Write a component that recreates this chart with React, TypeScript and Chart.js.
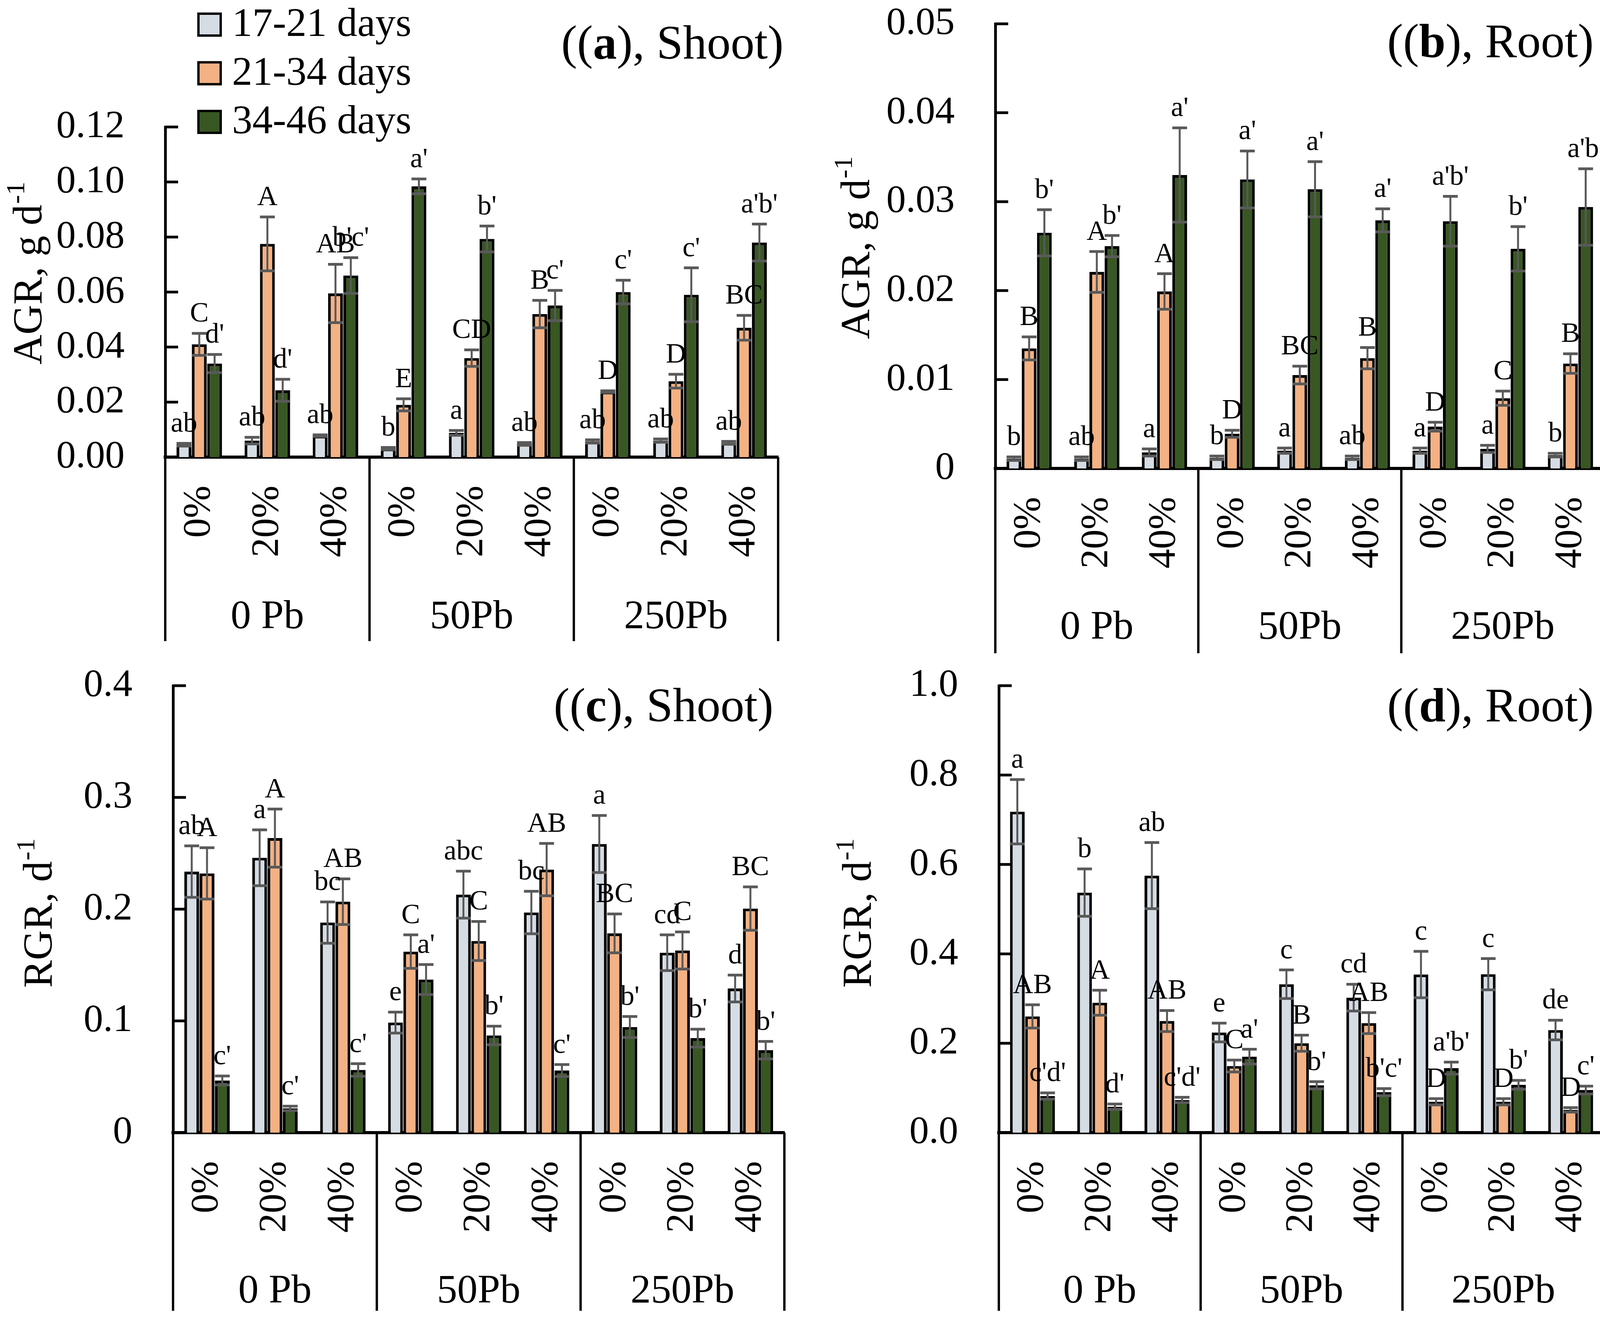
import React, { useEffect, useRef } from 'react';
import { Chart, registerables } from 'chart.js';

Chart.register(...registerables);

const FONT = '"Liberation Serif", "Times New Roman", serif';

// ---------- shared categories ----------
const categories = ['0%', '20%', '40%', '0%', '20%', '40%', '0%', '20%', '40%'];
const pbGroups = ['0 Pb', '50Pb', '250Pb'];
const seriesNames = ['17-21 days', '21-34 days', '34-46 days'];
const seriesColors = ['#D5DCE4', '#F4B183', '#385723'];

// ---------- (a) AGR, Shoot ----------
const agrShoot1721 = [0.0045, 0.006, 0.0078, 0.0031, 0.0088, 0.0048, 0.0057, 0.006, 0.0052];
const agrShoot2134 = [0.041, 0.0775, 0.0595, 0.019, 0.036, 0.052, 0.0238, 0.0276, 0.047];
const agrShoot3446 = [0.034, 0.0243, 0.066, 0.0984, 0.0793, 0.0551, 0.06, 0.059, 0.078];
const agrShoot1721Err = [0.0005, 0.0012, 0.0003, 0.0004, 0.0009, 0.0005, 0.0006, 0.0006, 0.0005];
const agrShoot2134Err = [0.004, 0.0098, 0.0106, 0.0022, 0.003, 0.005, 0.0003, 0.0025, 0.0045];
const agrShoot3446Err = [0.0033, 0.004, 0.0065, 0.0027, 0.0047, 0.0055, 0.0043, 0.0098, 0.0067];
const agrShootLetters1721 = ['ab', 'ab', 'ab', 'b', 'a', 'ab', 'ab', 'ab', 'ab'];
const agrShootLetters2134 = ['C', 'A', 'AB', 'E', 'CD', 'B', 'D', 'D', 'BC'];
const agrShootLetters3446 = ["d'", "d'", "b'c'", "a'", "b'", "c'", "c'", "c'", "a'b'"];
const agrShootTicks = (v: number) => v.toFixed(2);

// ---------- (b) AGR, Root ----------
const agrRoot1721 = [0.0011, 0.0011, 0.0018, 0.0012, 0.002, 0.0012, 0.002, 0.0022, 0.0015];
const agrRoot2134 = [0.0135, 0.0221, 0.0199, 0.0039, 0.0105, 0.0124, 0.0047, 0.0079, 0.0118];
const agrRoot3446 = [0.0265, 0.025, 0.033, 0.0325, 0.0314, 0.0279, 0.0278, 0.0247, 0.0294];
const agrRoot1721Err = [0.0002, 0.0002, 0.0004, 0.0002, 0.0003, 0.0002, 0.0003, 0.0004, 0.0002];
const agrRoot2134Err = [0.0013, 0.0023, 0.002, 0.0004, 0.001, 0.0012, 0.0005, 0.0008, 0.0011];
const agrRoot3446Err = [0.0026, 0.0012, 0.0053, 0.0032, 0.0031, 0.0013, 0.0028, 0.0025, 0.0043];
const agrRootLetters1721 = ['b', 'ab', 'a', 'b', 'a', 'ab', 'a', 'a', 'b'];
const agrRootLetters2134 = ['B', 'A', 'A', 'D', 'BC', 'B', 'D', 'C', 'B'];
const agrRootLetters3446 = ["b'", "b'", "a'", "a'", "a'", "a'", "a'b'", "b'", "a'b'"];
const agrRootTicks = (v: number) => (v === 0 ? '0' : v.toFixed(2));

// ---------- (c) RGR, Shoot ----------
const rgrShoot1721 = [0.2336, 0.246, 0.188, 0.0985, 0.213, 0.197, 0.2583, 0.161, 0.129];
const rgrShoot2134 = [0.232, 0.2636, 0.2067, 0.162, 0.1715, 0.2354, 0.1783, 0.163, 0.2005];
const rgrShoot3446 = [0.0467, 0.0217, 0.0561, 0.137, 0.087, 0.0556, 0.0945, 0.0846, 0.0738];
const rgrShoot1721Err = [0.023, 0.025, 0.0185, 0.0094, 0.021, 0.019, 0.0255, 0.016, 0.012];
const rgrShoot2134Err = [0.023, 0.026, 0.0204, 0.015, 0.0175, 0.0234, 0.0174, 0.0166, 0.0194];
const rgrShoot3446Err = [0.004, 0.002, 0.0056, 0.0134, 0.0083, 0.0053, 0.0094, 0.008, 0.0078];
const rgrShootLetters1721 = ['ab', 'a', 'bc', 'e', 'abc', 'bc', 'a', 'cd', 'd'];
const rgrShootLetters2134 = ['A', 'A', 'AB', 'C', 'C', 'AB', 'BC', 'C', 'BC'];
const rgrShootLetters3446 = ["c'", "c'", "c'", "a'", "b'", "c'", "b'", "b'", "b'"];
const rgrShootTicks = (v: number) => (v === 0 ? '0' : v.toFixed(1));

// ---------- (d) RGR, Root ----------
const rgrRoot1721 = [0.718, 0.537, 0.575, 0.224, 0.332, 0.302, 0.3537, 0.3544, 0.2295];
const rgrRoot2134 = [0.26, 0.2906, 0.2497, 0.149, 0.2, 0.245, 0.069, 0.069, 0.051];
const rgrRoot3446 = [0.0819, 0.058, 0.073, 0.17, 0.106, 0.0906, 0.1443, 0.107, 0.0953];
const rgrRoot1721Err = [0.072, 0.053, 0.074, 0.021, 0.032, 0.03, 0.052, 0.035, 0.022];
const rgrRoot2134Err = [0.026, 0.028, 0.0235, 0.0134, 0.018, 0.0235, 0.007, 0.007, 0.005];
const rgrRoot3446Err = [0.007, 0.006, 0.006, 0.0166, 0.008, 0.008, 0.0134, 0.01, 0.0087];
const rgrRootLetters1721 = ['a', 'b', 'ab', 'e', 'c', 'cd', 'c', 'c', 'de'];
const rgrRootLetters2134 = ['AB', 'A', 'AB', 'C', 'B', 'AB', 'D', 'D', 'D'];
const rgrRootLetters3446 = ["c'd'", "d'", "c'd'", "a'", "b'", "b'c'", "a'b'", "b'", "c'"];
const rgrRootTicks = (v: number) => v.toFixed(1);

type PanelCfg = {
  key: string;
  x: number; y: number; w: number; h: number;
  area: { left: number; right: number; top: number; bottom: number };
  yMax: number; yStep: number; fmt: (v: number) => string;
  values: number[][]; errors: number[][]; letters: string[][];
  yTitleMain: string; yTitleSup: string; yTitleX: number; yTitleY: number;
  tLetter: string; tWord: string; tRight: number; tBase: number;
  groupBase: number; sepBottom: number; legend: boolean;
};

const panels: PanelCfg[] = [
  {
    key: 'a', x: 0, y: 0, w: 2061, h: 1688,
    area: { left: 423, right: 1992, top: 325, bottom: 1170 },
    yMax: 0.12, yStep: 0.02, fmt: agrShootTicks,
    values: [agrShoot1721, agrShoot2134, agrShoot3446],
    errors: [agrShoot1721Err, agrShoot2134Err, agrShoot3446Err],
    letters: [agrShootLetters1721, agrShootLetters2134, agrShootLetters3446],
    yTitleMain: 'AGR, g d', yTitleSup: '-1', yTitleX: 106, yTitleY: 700,
    tLetter: 'a', tWord: 'Shoot', tRight: 2006, tBase: 150,
    groupBase: 1608, sepBottom: 1641, legend: true,
  },
  {
    key: 'b', x: 2061, y: 0, w: 2061, h: 1688,
    area: { left: 487, right: 2046, top: 61, bottom: 1199 },
    yMax: 0.05, yStep: 0.01, fmt: agrRootTicks,
    values: [agrRoot1721, agrRoot2134, agrRoot3446],
    errors: [agrRoot1721Err, agrRoot2134Err, agrRoot3446Err],
    letters: [agrRootLetters1721, agrRootLetters2134, agrRootLetters3446],
    yTitleMain: 'AGR, g d', yTitleSup: '-1', yTitleX: 164, yTitleY: 635,
    tLetter: 'b', tWord: 'Root', tRight: 2019, tBase: 146,
    groupBase: 1635, sepBottom: 1672, legend: false,
  },
  {
    key: 'c', x: 0, y: 1688, w: 2061, h: 1688,
    area: { left: 443, right: 2008, top: 67, bottom: 1211 },
    yMax: 0.4, yStep: 0.1, fmt: rgrShootTicks,
    values: [rgrShoot1721, rgrShoot2134, rgrShoot3446],
    errors: [rgrShoot1721Err, rgrShoot2134Err, rgrShoot3446Err],
    letters: [rgrShootLetters1721, rgrShootLetters2134, rgrShootLetters3446],
    yTitleMain: 'RGR, d', yTitleSup: '-1', yTitleX: 132, yTitleY: 650,
    tLetter: 'c', tWord: 'Shoot', tRight: 1980, tBase: 158,
    groupBase: 1646, sepBottom: 1667, legend: false,
  },
  {
    key: 'd', x: 2061, y: 1688, w: 2061, h: 1688,
    area: { left: 496, right: 2046, top: 67, bottom: 1211 },
    yMax: 1.0, yStep: 0.2, fmt: rgrRootTicks,
    values: [rgrRoot1721, rgrRoot2134, rgrRoot3446],
    errors: [rgrRoot1721Err, rgrRoot2134Err, rgrRoot3446Err],
    letters: [rgrRootLetters1721, rgrRootLetters2134, rgrRootLetters3446],
    yTitleMain: 'RGR, d', yTitleSup: '-1', yTitleX: 168, yTitleY: 650,
    tLetter: 'd', tWord: 'Root', tRight: 2019, tBase: 158,
    groupBase: 1646, sepBottom: 1667, legend: false,
  },
];

const Y_AXIS_W = 300;
const X_AXIS_H = 300;

function decorPlugin(cfg: PanelCfg) {
  return {
    id: 'decor' + cfg.key,
    afterDatasetsDraw(chart: any) {
      const ctx: CanvasRenderingContext2D = chart.ctx;
      const ys = chart.scales.y;
      ctx.save();
      // error bars
      ctx.strokeStyle = '#595959';
      ctx.lineCap = 'butt';
      const labelPos: { x: number; y: number; t: string }[] = [];
      chart.data.datasets.forEach((ds: any, di: number) => {
        const meta = chart.getDatasetMeta(di);
        meta.data.forEach((el: any, i: number) => {
          const v = ds.data[i] as number;
          const e = cfg.errors[di][i];
          const x = el.x;
          const w = el.width;
          const yt = ys.getPixelForValue(v + e);
          const yb = ys.getPixelForValue(Math.max(v - e, 0));
          ctx.lineWidth = 5;
          ctx.beginPath();
          ctx.moveTo(x, yt);
          ctx.lineTo(x, yb);
          ctx.stroke();
          ctx.lineWidth = 7;
          ctx.beginPath();
          ctx.moveTo(x - w / 2, yt);
          ctx.lineTo(x + w / 2, yt);
          ctx.moveTo(x - w / 2, yb);
          ctx.lineTo(x + w / 2, yb);
          ctx.stroke();
          labelPos.push({ x, y: yt - 30, t: cfg.letters[di][i] });
        });
      });
      // significance letters
      ctx.fillStyle = '#000';
      ctx.font = `72px ${FONT}`;
      ctx.textAlign = 'center';
      ctx.textBaseline = 'alphabetic';
      labelPos.forEach((p) => ctx.fillText(p.t, p.x, p.y));
      ctx.restore();
    },
    afterDraw(chart: any) {
      const ctx: CanvasRenderingContext2D = chart.ctx;
      const ys = chart.scales.y;
      const xs = chart.scales.x;
      const ca = chart.chartArea;
      ctx.save();
      ctx.strokeStyle = '#000';
      ctx.fillStyle = '#000';
      // inward y ticks
      ctx.lineWidth = 7;
      ys.ticks.forEach((t: any) => {
        const py = ys.getPixelForValue(t.value);
        ctx.beginPath();
        ctx.moveTo(ca.left, py);
        ctx.lineTo(ca.left + 33, py);
        ctx.stroke();
      });
      // group separators
      ctx.lineWidth = 6;
      const L = xs.left;
      const W = xs.right - xs.left;
      for (let k = 0; k <= pbGroups.length; k++) {
        const px = L + (W * k) / pbGroups.length;
        ctx.beginPath();
        ctx.moveTo(px, ca.bottom);
        ctx.lineTo(px, cfg.sepBottom);
        ctx.stroke();
      }
      // group labels
      ctx.font = `104px ${FONT}`;
      ctx.textAlign = 'center';
      ctx.textBaseline = 'alphabetic';
      pbGroups.forEach((g, k) => {
        ctx.fillText(g, L + (W * (k + 0.5)) / pbGroups.length, cfg.groupBase);
      });
      // y axis title with superscript
      ctx.save();
      ctx.translate(cfg.yTitleX, cfg.yTitleY);
      ctx.rotate(-Math.PI / 2);
      ctx.textAlign = 'left';
      const mainFont = `106px ${FONT}`;
      const supFont = `68px ${FONT}`;
      ctx.font = mainFont;
      const wm = ctx.measureText(cfg.yTitleMain).width;
      ctx.font = supFont;
      const wsup = ctx.measureText(cfg.yTitleSup).width;
      const start = -(wm + wsup) / 2;
      ctx.font = mainFont;
      ctx.fillText(cfg.yTitleMain, start, 0);
      ctx.font = supFont;
      ctx.fillText(cfg.yTitleSup, start + wm + 2, -44);
      ctx.restore();
      // panel title ((x), Word)
      const tNormal = `122px ${FONT}`;
      const tBold = `bold 122px ${FONT}`;
      const p1 = '((';
      const p3 = '), ' + cfg.tWord + ')';
      ctx.textAlign = 'left';
      ctx.font = tNormal;
      const w1 = ctx.measureText(p1).width;
      const w3 = ctx.measureText(p3).width;
      ctx.font = tBold;
      const w2 = ctx.measureText(cfg.tLetter).width;
      let tx = cfg.tRight - (w1 + w2 + w3);
      ctx.font = tNormal;
      ctx.fillText(p1, tx, cfg.tBase);
      tx += w1;
      ctx.font = tBold;
      ctx.fillText(cfg.tLetter, tx, cfg.tBase);
      tx += w2;
      ctx.font = tNormal;
      ctx.fillText(p3, tx, cfg.tBase);
      // legend
      if (cfg.legend) {
        chart.data.datasets.forEach((ds: any, i: number) => {
          const top = 32 + i * 124.5;
          ctx.fillStyle = ds.backgroundColor;
          ctx.fillRect(505, top, 63, 62);
          ctx.lineWidth = 6;
          ctx.strokeStyle = '#000';
          ctx.strokeRect(508, top + 3, 57, 56);
          ctx.fillStyle = '#000';
          ctx.font = `104px ${FONT}`;
          ctx.textAlign = 'left';
          ctx.fillText(ds.label, 594, 92 + i * 124.5);
        });
      }
      ctx.restore();
    },
  };
}

function Panel({ cfg }: { cfg: PanelCfg }) {
  const ref = useRef<HTMLCanvasElement | null>(null);
  useEffect(() => {
    const canvas = ref.current;
    if (!canvas) return;
    const a = cfg.area;
    const chart = new Chart(canvas, {
      type: 'bar',
      data: {
        labels: categories,
        datasets: cfg.values.map((vals, i) => ({
          label: seriesNames[i],
          data: vals,
          backgroundColor: seriesColors[i],
          borderColor: '#000000',
          borderWidth: 7,
          borderSkipped: 'start',
          categoryPercentage: 0.675,
          barPercentage: 0.97,
        })),
      },
      options: {
        responsive: false,
        animation: false,
        devicePixelRatio: 1,
        layout: {
          autoPadding: false,
          padding: {
            left: a.left - Y_AXIS_W,
            right: cfg.w - a.right,
            top: a.top,
            bottom: cfg.h - a.bottom - X_AXIS_H,
          },
        },
        plugins: {
          legend: { display: false },
          tooltip: { enabled: false },
          title: { display: false },
        },
        scales: {
          x: {
            type: 'category',
            offset: true,
            grid: { display: false, drawTicks: false },
            border: { display: true, color: '#000000', width: 8 },
            ticks: {
              color: '#000000',
              font: { family: FONT, size: 100, lineHeight: 1 },
              minRotation: 90,
              maxRotation: 90,
              autoSkip: false,
              padding: 73,
            },
            afterFit: (s: any) => {
              s.height = X_AXIS_H;
              s.paddingLeft = 0;
              s.paddingRight = 0;
            },
          },
          y: {
            type: 'linear',
            min: 0,
            max: cfg.yMax,
            grid: { display: false, drawTicks: false },
            border: { display: true, color: '#000000', width: 7 },
            ticks: {
              stepSize: cfg.yStep,
              color: '#000000',
              font: { family: FONT, size: 100, lineHeight: 1 },
              padding: 104,
              callback: (v: any) => cfg.fmt(Number(v)),
            },
            afterFit: (s: any) => {
              s.width = Y_AXIS_W;
              s.paddingTop = 0;
              s.paddingBottom = 0;
            },
          },
        },
      } as any,
      plugins: [decorPlugin(cfg)],
    });
    return () => chart.destroy();
  }, [cfg]);
  return (
    <canvas
      ref={ref}
      width={cfg.w}
      height={cfg.h}
      style={{ position: 'absolute', left: cfg.x, top: cfg.y, width: cfg.w, height: cfg.h }}
    />
  );
}

export default function App() {
  return (
    <div
      style={{
        position: 'absolute',
        left: 0,
        top: 0,
        width: 4122,
        height: 3376,
        background: '#ffffff',
        overflow: 'hidden',
      }}
    >
      {panels.map((p) => (
        <Panel key={p.key} cfg={p} />
      ))}
    </div>
  );
}
